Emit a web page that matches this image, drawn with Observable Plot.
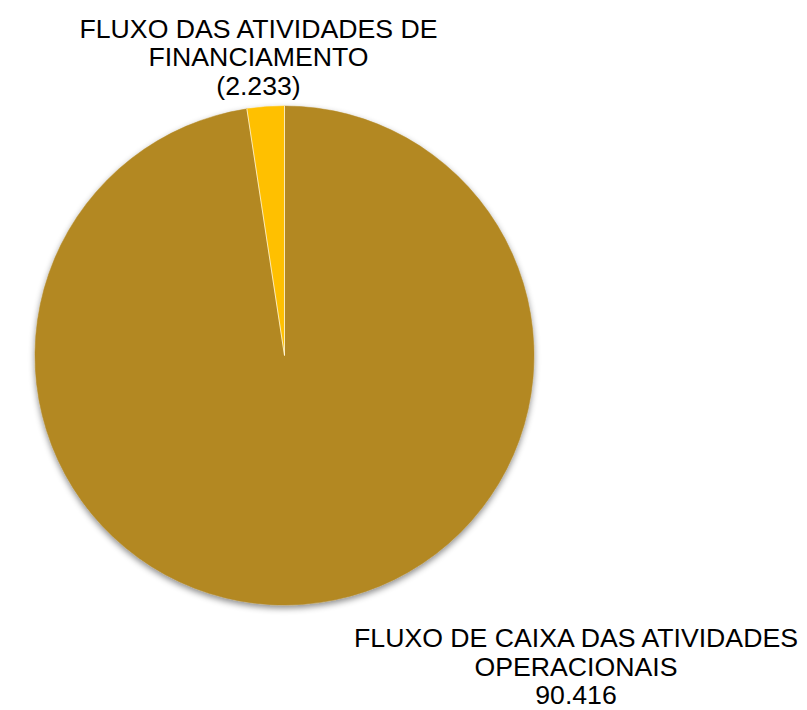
<!DOCTYPE html>
<html>
<head>
<meta charset="utf-8">
<script src="https://cdn.jsdelivr.net/npm/d3@7"></script>
<script src="https://cdn.jsdelivr.net/npm/@observablehq/plot@0.6"></script>
<style>
  html, body { margin: 0; padding: 0; background: #ffffff; }
  #chart svg { display: block; }
</style>
</head>
<body>
<div id="chart"></div>
<script>
const categories = ["FLUXO DE CAIXA DAS ATIVIDADES OPERACIONAIS", "FLUXO DAS ATIVIDADES DE FINANCIAMENTO"];
const labelLines = [
  ["FLUXO DE CAIXA DAS ATIVIDADES", "OPERACIONAIS"],
  ["FLUXO DAS ATIVIDADES DE", "FINANCIAMENTO"]
];
const values = [90.416, -2.233];
const valueLabels = ["90.416", "(2.233)"];
const colors = ["#B38824", "#FFC000"];

const W = 807, H = 710;
const cx = 284.5, cy = 355.5, R = 249.5;

const rows = categories.map((c, i) => ({
  category: c,
  value: values[i],
  size: Math.abs(values[i]),
  color: colors[i],
  label: [...labelLines[i], valueLabels[i]].join("\n")
}));

const arcs = d3.pie().sort(null).value(d => d.size)(rows);

// label anchor positions derived from pie geometry
const labelPos = [
  {x: cx + 291, y: cy + R + 98.5},  // operacionais: below right
  {x: cx - 26.5, y: cy - R - 12}    // financiamento: above
];
const labelRows = rows.map((r, i) => ({...r, lx: labelPos[i].x, ly: labelPos[i].y}));

function pieMark(index, scales, channels, dimensions, context) {
  const g = d3.create("svg:g");
  const defs = g.append("defs");
  const f = defs.append("filter").attr("id", "pieShadow")
    .attr("x", "-10%").attr("y", "-10%").attr("width", "120%").attr("height", "125%");
  f.append("feDropShadow").attr("dx", 0).attr("dy", 3).attr("stdDeviation", 3)
    .attr("flood-color", "#000").attr("flood-opacity", 0.45);
  const px = scales.x(cx), py = scales.y(cy);
  const rr = scales.x(cx + R) - px;
  const arc = d3.arc().innerRadius(0).outerRadius(rr);
  const gg = g.append("g").attr("transform", `translate(${px},${py})`);
  const body = gg.append("g").attr("filter", "url(#pieShadow)");
  body.selectAll("path").data(arcs).join("path")
    .attr("d", arc)
    .attr("fill", d => d.data.color)
    .attr("stroke", d => d.data.color)
    .attr("stroke-width", 0.5);
  // thin separators between slices
  gg.selectAll("line").data(arcs).join("line")
    .attr("x1", 0).attr("y1", 0)
    .attr("x2", d => rr * Math.sin(d.startAngle))
    .attr("y2", d => -rr * Math.cos(d.startAngle))
    .attr("stroke", "#ffffff")
    .attr("stroke-opacity", 0.7)
    .attr("stroke-width", 1);
  return g.node();
}

const chart = Plot.plot({
  width: W,
  height: H,
  margin: 0,
  x: {domain: [0, W], range: [0, W], axis: null},
  y: {domain: [0, H], range: [0, H], axis: null},
  style: {background: "#ffffff", fontFamily: "'Liberation Sans', Arial, sans-serif"},
  marks: [
    pieMark,
    Plot.text(labelRows, {
      x: "lx",
      y: "ly",
      text: "label",
      textAnchor: "middle",
      lineAnchor: "bottom",
      lineHeight: 1.06,
      fontSize: 26.67,
      fill: "#000000",
      fontFamily: "'Liberation Sans', Arial, sans-serif"
    })
  ]
});
document.getElementById("chart").appendChild(chart);
</script>
</body>
</html>
